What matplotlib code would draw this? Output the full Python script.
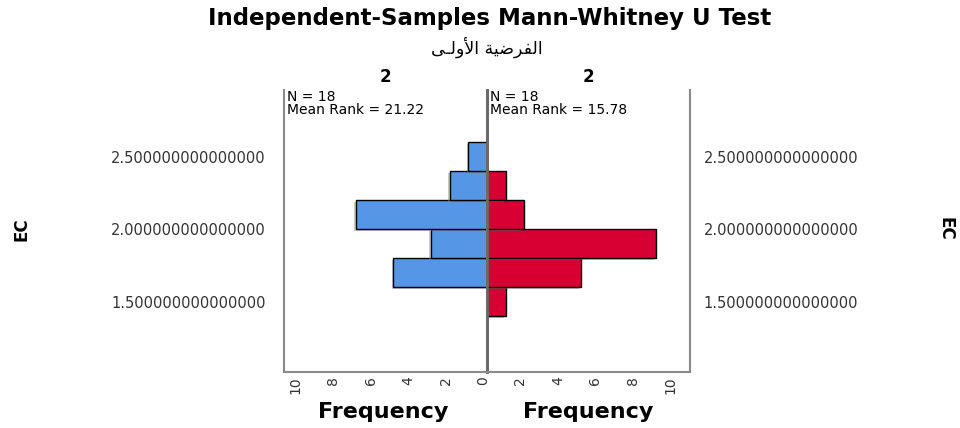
import matplotlib
matplotlib.use('Agg')
import matplotlib.pyplot as plt
from matplotlib.transforms import ScaledTranslation
import matplotlib.patheffects as pe

# ---------------- data ----------------
bin_lower = [1.4, 1.6, 1.8, 2.0, 2.2, 2.4]
bin_width = 0.2
group_left_counts = [0, 5, 3, 7, 2, 1]
group_right_counts = [1, 5, 9, 2, 1, 0]
group_left_label = "2"
group_right_label = "2"
left_stats = ["N = 18", "Mean Rank = 21.22"]
right_stats = ["N = 18", "Mean Rank = 15.78"]
y_ticks = [1.5, 2.0, 2.5]
y_tick_labels = ["1.500000000000000", "2.000000000000000", "2.500000000000000"]
freq_ticks = [0, 2, 4, 6, 8, 10]
freq_tick_labels = ["0", "2", "4", "6", "8", "10"]
title = "Independent-Samples Mann-Whitney U Test"
# "الفرضية الأولى" written with Arabic presentation forms in visual order
subtitle = "\ufef0\u0640\ufedf\ufeed\ufef7\ufe8d \ufe94\ufef4\ufebf\ufeae\ufed4\ufedf\ufe8d"
y_label = "EC"
x_label = "Frequency"

# ---------------- style ----------------
BLUE = "#5596E6"
RED = "#D60032"
FRAME = "#8a8a8a"
CENTER = "#6a6a6a"
TXT = "#333333"
plt.rcParams['font.family'] = ['DejaVu Sans']

W, H = 960, 428
fig = plt.figure(figsize=(W / 100, H / 100), dpi=100)


def fx(px):
    return px / W


def fy(py):
    return 1 - py / H


top_px, bot_px = 90, 372
xl, xc, xr = 284, 487, 690
ax_l = fig.add_axes([fx(xl), fy(bot_px), (xc - xl) / W, (bot_px - top_px) / H])
ax_r = fig.add_axes([fx(xc), fy(bot_px), (xr - xc) / W, (bot_px - top_px) / H])

xmax = 10.83
ymin, ymax = 1.017, 2.962

shadow = [pe.SimplePatchShadow(offset=(-1.0, -1.0), shadow_rgbFace='#888888', alpha=0.45), pe.Normal()]

ax_l.barh(bin_lower, group_left_counts, height=bin_width, align='edge',
          color=BLUE, edgecolor='black', linewidth=1.0, path_effects=shadow)
ax_r.barh(bin_lower, group_right_counts, height=bin_width, align='edge',
          color=RED, edgecolor='black', linewidth=1.0, path_effects=shadow)

ax_l.set_xlim(xmax, 0)
ax_r.set_xlim(0, xmax)
for ax in (ax_l, ax_r):
    ax.set_ylim(ymin, ymax)
    ax.spines['top'].set_visible(False)
    ax.tick_params(length=0)
    ax.set_facecolor('none')

for ax, side in ((ax_l, 'left'), (ax_r, 'right')):
    ax.spines[side].set_color(FRAME)
    ax.spines[side].set_linewidth(1.5)
    ax.spines['bottom'].set_color(FRAME)
    ax.spines['bottom'].set_linewidth(1.5)
ax_l.spines['right'].set_color(CENTER)
ax_l.spines['right'].set_linewidth(2.0)
ax_r.spines['left'].set_color(CENTER)
ax_r.spines['left'].set_linewidth(2.0)

# y ticks
ax_l.set_yticks(y_ticks, y_tick_labels)
ax_l.tick_params(axis='y', pad=13, labelsize=10.5, labelcolor=TXT)
ax_r.yaxis.tick_right()
ax_r.set_yticks(y_ticks, y_tick_labels)
ax_r.tick_params(axis='y', pad=10, labelsize=10.5, labelcolor=TXT)

# x ticks (rotated)
ax_l.set_xticks(freq_ticks, freq_tick_labels)
ax_r.set_xticks(freq_ticks[1:], freq_tick_labels[1:])
off = ScaledTranslation(-4 / 100, 0, fig.dpi_scale_trans)
for ax in (ax_l, ax_r):
    ax.tick_params(axis='x', pad=3, labelsize=10, labelcolor=TXT)
    for lab in ax.get_xticklabels():
        lab.set_rotation(90)
        lab.set_va('top')
        lab.set_ha('center')
        lab.set_transform(lab.get_transform() + off)

# group labels and x labels
fig.text((fx(xl) + fx(xc)) / 2, fy(77), group_left_label, ha='center', va='center',
         fontsize=12, fontweight='bold')
fig.text((fx(xc) + fx(xr)) / 2, fy(77), group_right_label, ha='center', va='center',
         fontsize=12, fontweight='bold')
fig.text((fx(xl) + fx(xc)) / 2 - 0.002, fy(412), x_label, ha='center', va='center',
         fontsize=16, fontweight='bold')
fig.text((fx(xc) + fx(xr)) / 2, fy(412), x_label, ha='center', va='center',
         fontsize=16, fontweight='bold')

# stats
fig.text(fx(287), fy(97), left_stats[0], ha='left', va='center', fontsize=10)
fig.text(fx(287), fy(110), left_stats[1], ha='left', va='center', fontsize=10)
fig.text(fx(490), fy(97), right_stats[0], ha='left', va='center', fontsize=10)
fig.text(fx(490), fy(110), right_stats[1], ha='left', va='center', fontsize=10)

# titles
fig.text(fx(490), fy(18), title, ha='center', va='center', fontsize=16.5, fontweight='bold')
fig.text(fx(487), fy(47), subtitle, ha='center', va='center', fontsize=12.5)

# axis name
fig.text(fx(22), fy(229), y_label, ha='center', va='center', rotation=90,
         fontsize=12, fontweight='bold')
fig.text(fx(946), fy(229), y_label, ha='center', va='center', rotation=270,
         fontsize=12, fontweight='bold')

fig.savefig('out.png', dpi=100, facecolor='white')
